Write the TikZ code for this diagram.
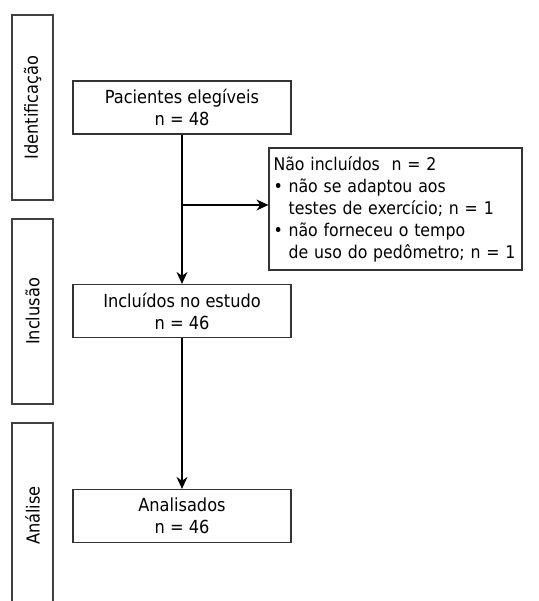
\documentclass[tikz,border=0pt]{standalone}
\usepackage{fontspec}
\setmainfont{DejaVu Sans Condensed}
\usetikzlibrary{arrows.meta,positioning}

\begin{document}
\begin{tikzpicture}[
  x=1pt,
  y=-1pt,
  font=\fontsize{18}{22}\selectfont,
  phase/.style={
    draw=black!75,
    line width=1.2pt,
    rotate=90,
    minimum width=185pt,
    minimum height=41pt,
    inner sep=0pt
  },
  stage/.style={
    draw=black!80,
    line width=1.2pt,
    minimum width=218pt,
    minimum height=53pt,
    align=center,
    inner sep=0pt
  },
  flow/.style={
    -{Stealth[length=12pt,width=11pt]},
    line width=1.3pt
  }
]
  \useasboundingbox (0,0) rectangle (538,601);
  % fases
  \node[phase] (ident) at (32.5,107.5) {Identificação};
  \node[phase] (incl) at (32.5,311.5) {Inclusão};
  \node[phase] (anal) at (32.5,515.5) {Análise};
  % caixas
  \node[stage] (elig) at (182,107.5) {Pacientes elegíveis\\n = 48};
  \node[stage] (estudo) at (182,311) {Incluídos no estudo\\n = 46};
  \node[stage] (analis) at (182,516) {Analisados\\n = 46};
  \node[stage,
    font=\fontsize{17.5}{22}\selectfont,
    minimum width=253pt,
    minimum height=122pt,
    text width=244pt,
    inner xsep=4.5pt,
    align=left] (excl) at (395.5,209)
    {Não incluídos~~n = 2\\
     • não se adaptou aos\\
     \phantom{• }testes de exercício; n = 1\\
     • não forneceu o tempo\\
     \phantom{• }de uso do pedômetro; n = 1};
  % setas
  \coordinate (split) at (182,205);
  \draw[flow] (elig) -- (estudo);
  \draw[flow] (split) -- (split -| excl.west);
  \draw[flow] (estudo) -- (analis);
\end{tikzpicture}
\end{document}
